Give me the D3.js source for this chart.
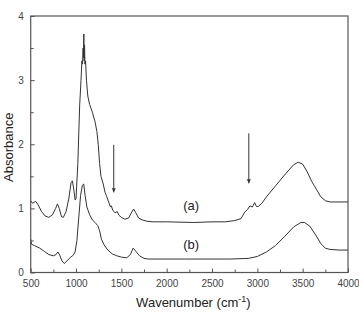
<!DOCTYPE html>
<html><head><meta charset="utf-8">
<script src="https://cdn.jsdelivr.net/npm/d3@7"></script>
<style>body{margin:0;background:#fff;}svg{display:block;}</style>
</head><body>
<script>
const seriesA = [[500,1.12],[520,1.08],[555,1.11],[580,1.06],[620,0.95],[660,0.88],[700,0.86],[740,0.9],[775,1.0],[795,1.07],[815,1.0],[840,0.87],[860,0.86],[890,0.95],[920,1.15],[945,1.40],[960,1.43],[975,1.3],[990,1.13],[1000,1.15],[1020,1.7],[1040,2.6],[1055,3.0],[1065,3.3],[1072,3.25],[1078,3.5],[1082,3.35],[1086,3.72],[1090,3.3],[1094,3.55],[1098,3.25],[1105,3.3],[1115,3.0],[1130,2.75],[1150,2.62],[1180,2.5],[1210,2.35],[1230,2.2],[1245,2.0],[1260,1.7],[1275,1.5],[1300,1.38],[1320,1.25],[1340,1.18],[1360,1.1],[1380,1.02],[1390,1.04],[1405,0.97],[1420,0.95],[1430,0.93],[1455,0.95],[1475,0.89],[1500,0.86],[1540,0.83],[1580,0.85],[1610,0.93],[1635,0.99],[1660,0.93],[1690,0.85],[1730,0.82],[1780,0.80],[1850,0.79],[2000,0.79],[2300,0.78],[2500,0.79],[2650,0.79],[2750,0.81],[2820,0.84],[2860,0.94],[2890,0.98],[2920,1.04],[2945,1.02],[2970,1.09],[2990,1.03],[3010,1.03],[3050,1.08],[3100,1.18],[3200,1.35],[3300,1.52],[3400,1.68],[3450,1.72],[3500,1.69],[3550,1.57],[3600,1.42],[3650,1.3],[3700,1.18],[3750,1.12],[3800,1.1],[3900,1.1],[4000,1.1]];
const seriesB = [[500,0.52],[510,0.44],[540,0.42],[600,0.38],[650,0.33],[700,0.28],[750,0.26],[780,0.28],[800,0.32],[820,0.27],[845,0.18],[870,0.14],[900,0.18],[940,0.24],[970,0.27],[990,0.32],[1010,0.5],[1030,0.85],[1050,1.2],[1070,1.36],[1085,1.38],[1100,1.2],[1120,1.02],[1150,0.9],[1180,0.82],[1210,0.78],[1240,0.73],[1260,0.65],[1280,0.52],[1310,0.43],[1350,0.35],[1400,0.29],[1450,0.26],[1500,0.24],[1560,0.23],[1600,0.28],[1630,0.38],[1660,0.33],[1700,0.26],[1750,0.22],[1800,0.21],[2200,0.21],[2700,0.21],[2900,0.22],[3000,0.25],[3100,0.32],[3200,0.42],[3300,0.56],[3400,0.71],[3480,0.78],[3520,0.78],[3580,0.72],[3650,0.57],[3700,0.45],[3750,0.38],[3800,0.36],[3900,0.35],[4000,0.35]];
const xTicks = [500,1000,1500,2000,2500,3000,3500,4000];
const yTicks = [0,1,2,3,4];
const arrows = [[1416,1.99,1.25],[2906,2.17,1.39]];
const curveLabels = [["(a)",2270,0.98],["(b)",2270,0.36]];

const W=359,H=312, L=30.7, R=348, T=16, B=272.5;
const svg=d3.select("body").append("svg").attr("width",W).attr("height",H);
const x=d3.scaleLinear().domain([500,4000]).range([L,R]);
const y=d3.scaleLinear().domain([0,4]).range([B,T]);
const col="#333";
const line=d3.line().x(d=>x(d[0])).y(d=>y(d[1]));
[seriesA,seriesB].forEach(s=>svg.append("path").datum(s).attr("d",line).attr("fill","none").attr("stroke",col).attr("stroke-width",1));

svg.append("rect").attr("x",L).attr("y",T).attr("width",R-L).attr("height",B-T).attr("fill","none").attr("stroke","#555").attr("stroke-width",1.2);

const xMinor=d3.range(750,4000,500);
const yMinor=[0.5,1.5,2.5,3.5];
const gx=svg.append("g").attr("transform",`translate(0,${B})`);
gx.call(d3.axisBottom(x).tickValues(xTicks).tickSize(-4).tickPadding(7).tickFormat(d3.format("d")));
gx.append("g").call(d3.axisBottom(x).tickValues(xMinor).tickSize(-3).tickFormat(""));
const gy=svg.append("g").attr("transform",`translate(${L},0)`);
gy.call(d3.axisLeft(y).tickValues(yTicks).tickSize(-4).tickPadding(7).tickFormat(d3.format("d")));
gy.append("g").call(d3.axisLeft(y).tickValues(yMinor).tickSize(-3).tickFormat(""));
svg.selectAll(".domain").remove();
svg.selectAll(".tick line").attr("stroke","#555");
svg.selectAll(".tick text").attr("fill","#444").style("font-family","Liberation Sans, Arial, sans-serif").style("font-size","10px");

arrows.forEach(a=>{
  const xp=x(a[0]), y1=y(a[1]), y2=y(a[2]);
  svg.append("line").attr("x1",xp).attr("x2",xp).attr("y1",y1).attr("y2",y2).attr("stroke",col).attr("stroke-width",1);
  svg.append("path").attr("d",`M${xp-2},${y2-4}L${xp},${y2}L${xp+2},${y2-4}Z`).attr("fill",col);
});
curveLabels.forEach(c=>svg.append("text").attr("x",x(c[1])).attr("y",y(c[2])).attr("text-anchor","middle")
  .style("font-family","Liberation Sans, Arial, sans-serif").style("font-size","13px").attr("fill","#222").text(c[0]));

const t=svg.append("text").attr("x",(L+R)/2+4).attr("y",307).attr("text-anchor","middle")
  .style("font-family","Liberation Sans, Arial, sans-serif").style("font-size","13px").attr("fill","#222");
t.append("tspan").text("Wavenumber (cm");
t.append("tspan").attr("dy",-5).style("font-size","9px").text("-1");
t.append("tspan").attr("dy",5).text(")");
svg.append("text").attr("transform",`translate(13,${(T+B)/2+3}) rotate(-90)`).attr("text-anchor","middle")
  .style("font-family","Liberation Sans, Arial, sans-serif").style("font-size","13px").attr("fill","#222").text("Absorbance");
</script>
</body></html>
